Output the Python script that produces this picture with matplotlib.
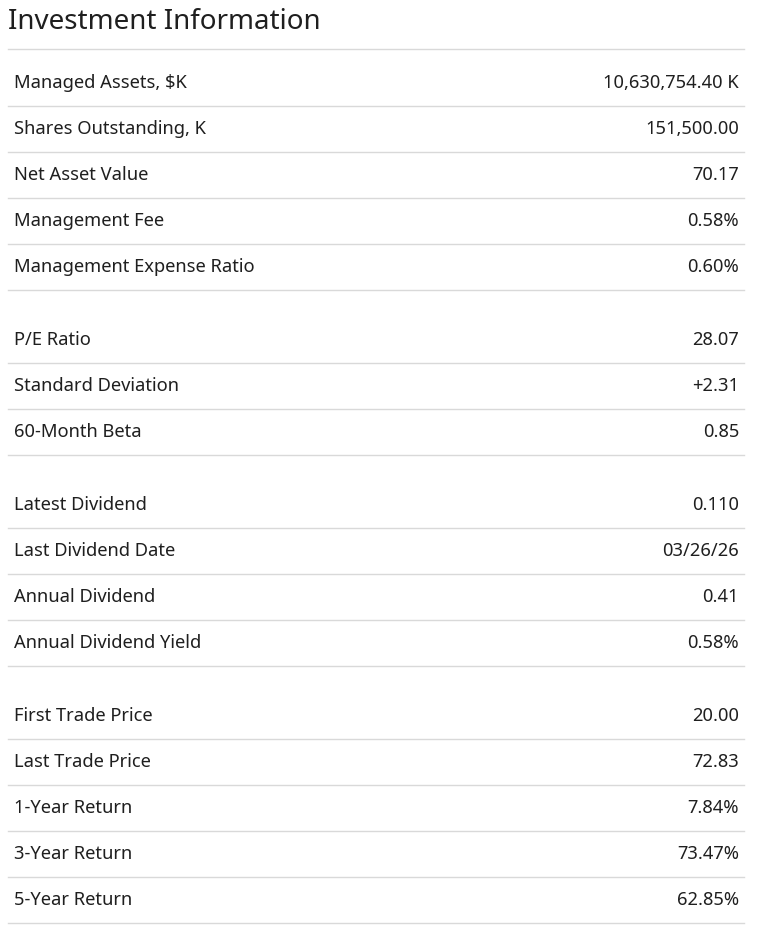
import matplotlib.pyplot as plt

title = "Investment Information"

groups = [
    [("Managed Assets, $K", "10,630,754.40 K"),
     ("Shares Outstanding, K", "151,500.00"),
     ("Net Asset Value", "70.17"),
     ("Management Fee", "0.58%"),
     ("Management Expense Ratio", "0.60%")],
    [("P/E Ratio", "28.07"),
     ("Standard Deviation", "+2.31"),
     ("60-Month Beta", "0.85")],
    [("Latest Dividend", "0.110"),
     ("Last Dividend Date", "03/26/26"),
     ("Annual Dividend", "0.41"),
     ("Annual Dividend Yield", "0.58%")],
    [("First Trade Price", "20.00"),
     ("Last Trade Price", "72.83"),
     ("1-Year Return", "7.84%"),
     ("3-Year Return", "73.47%"),
     ("5-Year Return", "62.85%")],
]

W, H = 768, 935
fig = plt.figure(figsize=(W / 100, H / 100), dpi=100)
ax = fig.add_axes([0, 0, 1, 1])
ax.set_xlim(0, W)
ax.set_ylim(H, 0)
ax.axis("off")

plt.rcParams["font.family"] = ["Noto Sans", "DejaVu Sans"]
txt = "#1f1f1f"
line_c = "#d9d9d9"

ax.text(8, 22, title, fontsize=20, fontweight="bold", color=txt,
        va="center", ha="left")
ax.plot([8, 744], [49, 49], color=line_c, lw=1)

y = 83
for g in groups:
    for label, val in g:
        ax.text(14, y, label, fontsize=13.2, color=txt, va="center", ha="left")
        ax.text(739, y, val, fontsize=13.2, color=txt, va="center", ha="right")
        ax.plot([8, 744], [y + 23, y + 23], color=line_c, lw=1)
        y += 46.1
    y += 26.5

fig.savefig("out.png", dpi=100)
